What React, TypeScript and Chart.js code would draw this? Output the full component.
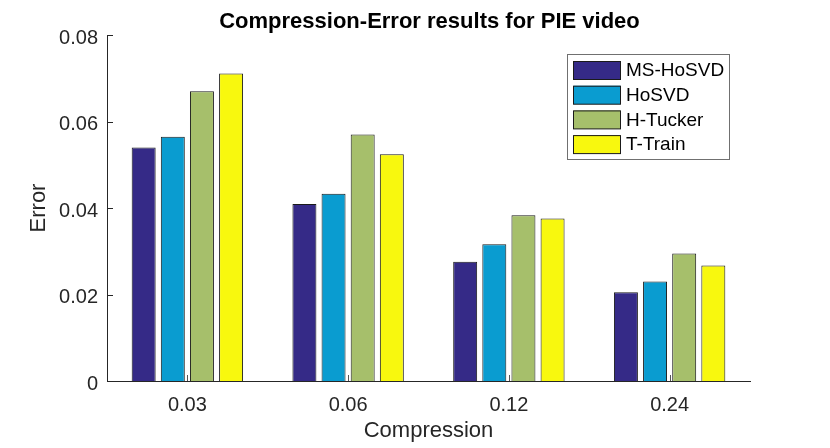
import React, { useEffect, useRef } from 'react';
import { Chart, registerables } from 'chart.js';

Chart.register(...registerables);

const categories = ['0.03', '0.06', '0.12', '0.24'];
const seriesNames = ['MS-HoSVD', 'HoSVD', 'H-Tucker', 'T-Train'];
const msHosvd = [0.054, 0.0409, 0.0276, 0.0205];
const hosvd = [0.0565, 0.0433, 0.0316, 0.023];
const hTucker = [0.067, 0.057, 0.0383, 0.0295];
const tTrain = [0.0711, 0.0524, 0.0376, 0.0267];
const yTickLabels = ['0', '0.02', '0.04', '0.06', '0.08'];
const titleText = 'Compression-Error results for PIE video';
const xTitle = 'Compression';
const yTitle = 'Error';

const colors = ['#352a87', '#0a9cd0', '#a6bf6b', '#f8f80e'];
const FONT = '"Liberation Sans", Arial, Helvetica, sans-serif';
const AXIS = '#262626';

const decorPlugin = {
  id: 'matlabDecor',
  afterDraw(chart: any) {
    const ctx = chart.ctx;
    const area = chart.chartArea;
    const xs = chart.scales.x;
    const ys = chart.scales.y;
    ctx.save();
    // inward ticks
    ctx.strokeStyle = AXIS;
    ctx.lineWidth = 1;
    ys.ticks.forEach((t: any) => {
      const y = Math.round(ys.getPixelForValue(t.value)) + 0.5;
      ctx.beginPath();
      ctx.moveTo(area.left, y);
      ctx.lineTo(area.left + 6, y);
      ctx.stroke();
    });
    ctx.strokeStyle = '#555';
    xs.ticks.forEach((_t: any, i: number) => {
      const x = Math.round(xs.getPixelForTick(i)) + 0.5;
      ctx.beginPath();
      ctx.moveTo(x, area.bottom);
      ctx.lineTo(x, area.bottom - 6);
      ctx.stroke();
    });
    // title
    ctx.fillStyle = '#000';
    ctx.font = 'bold 22px ' + FONT;
    ctx.textAlign = 'center';
    ctx.textBaseline = 'alphabetic';
    ctx.fillText(titleText, (area.left + area.right) / 2 + 1, 28);
    // legend
    const lx = 567.5, ly = 54.5, lw = 162, lh = 105;
    ctx.fillStyle = '#fff';
    ctx.fillRect(lx, ly, lw, lh);
    ctx.strokeStyle = '#707070';
    ctx.strokeRect(lx, ly, lw, lh);
    ctx.font = '19px ' + FONT;
    ctx.textAlign = 'left';
    ctx.textBaseline = 'middle';
    chart.data.datasets.forEach((ds: any, i: number) => {
      const top = 61 + i * 24.7;
      ctx.fillStyle = ds.backgroundColor;
      ctx.fillRect(573.5, top, 47, 18.5);
      ctx.strokeStyle = '#1a1a1a';
      ctx.strokeRect(573.5, top + 0.5, 47, 18);
      ctx.fillStyle = '#000';
      ctx.fillText(ds.label, 626, top + 10);
    });
    ctx.restore();
  },
};

export default function App() {
  const ref = useRef<HTMLCanvasElement>(null);
  useEffect(() => {
    if (!ref.current) return;
    const series = [msHosvd, hosvd, hTucker, tTrain];
    const chart = new Chart(ref.current, {
      type: 'bar',
      data: {
        labels: categories,
        datasets: series.map((d, i) => ({
          label: seriesNames[i],
          data: d,
          backgroundColor: colors[i],
          borderColor: '#1a1a1a',
          borderWidth: 1,
          categoryPercentage: 0.725,
          barPercentage: 0.823,
        })),
      },
      options: {
        animation: false,
        responsive: false,
        maintainAspectRatio: false,
        layout: { padding: { left: 0, right: 80, top: 35, bottom: 0 } },
        plugins: {
          legend: { display: false },
          title: { display: false },
          tooltip: { enabled: false },
        },
        scales: {
          x: {
            grid: { display: false, drawTicks: false },
            border: { display: true, color: AXIS, width: 1 },
            ticks: { color: AXIS, font: { family: FONT, size: 20 }, padding: 12 },
            title: {
              display: true,
              text: xTitle,
              color: AXIS,
              font: { family: FONT, size: 22 },
              padding: { top: 0, bottom: 4 },
            },
            afterFit(scale: any) {
              scale.height = 67;
            },
          },
          y: {
            min: 0,
            max: 0.08,
            grid: { display: false, drawTicks: false },
            border: { display: true, color: AXIS, width: 1 },
            ticks: {
              stepSize: 0.02,
              color: AXIS,
              font: { family: FONT, size: 20 },
              padding: 9,
              labelOffset: 3,
              callback: (_v: any, i: number) => yTickLabels[i],
            },
            title: {
              display: true,
              text: yTitle,
              color: AXIS,
              font: { family: FONT, size: 22 },
              padding: { top: 26, bottom: 0 },
            },
            afterFit(scale: any) {
              scale.width = 107;
            },
          },
        },
      },
      plugins: [decorPlugin],
    });
    return () => chart.destroy();
  }, []);
  return (
    <div style={{ position: 'fixed', left: 0, top: 0, width: 830, height: 448, background: '#fff' }}>
      <canvas ref={ref} width={830} height={448} />
    </div>
  );
}
